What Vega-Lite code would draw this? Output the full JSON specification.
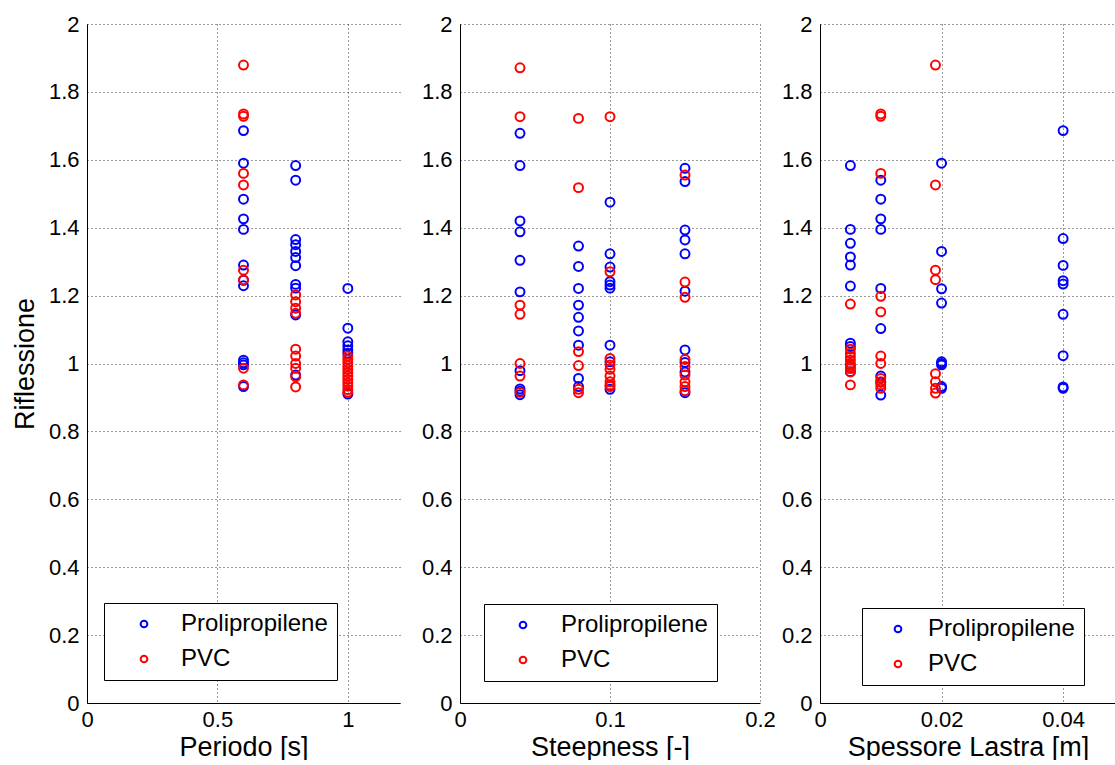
{
  "$schema": "https://vega.github.io/schema/vega-lite/v6.json",
  "padding": {"left": 11, "top": 13, "right": 0, "bottom": 0},
  "background": "white",
  "bounds": "flush",
  "spacing": 60,
  "datasets": {
    "p1": [
      {"x": 0.6, "y": 1.686, "mat": "Prolipropilene"}, {"x": 0.6, "y": 1.59, "mat": "Prolipropilene"}, {"x": 0.6, "y": 1.484, "mat": "Prolipropilene"}, {"x": 0.6, "y": 1.426, "mat": "Prolipropilene"}, {"x": 0.6, "y": 1.395, "mat": "Prolipropilene"}, {"x": 0.6, "y": 1.29, "mat": "Prolipropilene"}, {"x": 0.6, "y": 1.245, "mat": "Prolipropilene"}, {"x": 0.6, "y": 1.229, "mat": "Prolipropilene"}, {"x": 0.6, "y": 1.01, "mat": "Prolipropilene"}, {"x": 0.6, "y": 1.002, "mat": "Prolipropilene"}, {"x": 0.6, "y": 0.996, "mat": "Prolipropilene"}, {"x": 0.6, "y": 0.932, "mat": "Prolipropilene"},
      {"x": 0.8, "y": 1.583, "mat": "Prolipropilene"}, {"x": 0.8, "y": 1.54, "mat": "Prolipropilene"}, {"x": 0.8, "y": 1.365, "mat": "Prolipropilene"}, {"x": 0.8, "y": 1.35, "mat": "Prolipropilene"}, {"x": 0.8, "y": 1.33, "mat": "Prolipropilene"}, {"x": 0.8, "y": 1.312, "mat": "Prolipropilene"}, {"x": 0.8, "y": 1.288, "mat": "Prolipropilene"}, {"x": 0.8, "y": 1.233, "mat": "Prolipropilene"}, {"x": 0.8, "y": 1.222, "mat": "Prolipropilene"}, {"x": 0.8, "y": 1.143, "mat": "Prolipropilene"}, {"x": 0.8, "y": 0.966, "mat": "Prolipropilene"},
      {"x": 1.0, "y": 1.221, "mat": "Prolipropilene"}, {"x": 1.0, "y": 1.104, "mat": "Prolipropilene"}, {"x": 1.0, "y": 1.064, "mat": "Prolipropilene"}, {"x": 1.0, "y": 1.052, "mat": "Prolipropilene"}, {"x": 1.0, "y": 1.04, "mat": "Prolipropilene"}, {"x": 1.0, "y": 1.03, "mat": "Prolipropilene"}, {"x": 1.0, "y": 0.91, "mat": "Prolipropilene"},
      {"x": 0.6, "y": 1.879, "mat": "PVC"}, {"x": 0.6, "y": 1.735, "mat": "PVC"}, {"x": 0.6, "y": 1.728, "mat": "PVC"}, {"x": 0.6, "y": 1.56, "mat": "PVC"}, {"x": 0.6, "y": 1.526, "mat": "PVC"}, {"x": 0.6, "y": 1.275, "mat": "PVC"}, {"x": 0.6, "y": 1.246, "mat": "PVC"}, {"x": 0.6, "y": 0.986, "mat": "PVC"}, {"x": 0.6, "y": 0.937, "mat": "PVC"},
      {"x": 0.8, "y": 1.202, "mat": "PVC"}, {"x": 0.8, "y": 1.182, "mat": "PVC"}, {"x": 0.8, "y": 1.163, "mat": "PVC"}, {"x": 0.8, "y": 1.148, "mat": "PVC"}, {"x": 0.8, "y": 1.042, "mat": "PVC"}, {"x": 0.8, "y": 1.022, "mat": "PVC"}, {"x": 0.8, "y": 1.0, "mat": "PVC"}, {"x": 0.8, "y": 0.986, "mat": "PVC"}, {"x": 0.8, "y": 0.961, "mat": "PVC"}, {"x": 0.8, "y": 0.931, "mat": "PVC"},
      {"x": 1.0, "y": 1.022, "mat": "PVC"}, {"x": 1.0, "y": 1.012, "mat": "PVC"}, {"x": 1.0, "y": 1.002, "mat": "PVC"}, {"x": 1.0, "y": 0.993, "mat": "PVC"}, {"x": 1.0, "y": 0.983, "mat": "PVC"}, {"x": 1.0, "y": 0.973, "mat": "PVC"}, {"x": 1.0, "y": 0.963, "mat": "PVC"}, {"x": 1.0, "y": 0.953, "mat": "PVC"}, {"x": 1.0, "y": 0.943, "mat": "PVC"}, {"x": 1.0, "y": 0.933, "mat": "PVC"}, {"x": 1.0, "y": 0.923, "mat": "PVC"}, {"x": 1.0, "y": 0.915, "mat": "PVC"}
    ],
    "p2": [
      {"x": 0.04, "y": 1.678, "mat": "Prolipropilene"}, {"x": 0.04, "y": 1.583, "mat": "Prolipropilene"}, {"x": 0.04, "y": 1.42, "mat": "Prolipropilene"}, {"x": 0.04, "y": 1.388, "mat": "Prolipropilene"}, {"x": 0.04, "y": 1.304, "mat": "Prolipropilene"}, {"x": 0.04, "y": 1.211, "mat": "Prolipropilene"}, {"x": 0.04, "y": 0.979, "mat": "Prolipropilene"}, {"x": 0.04, "y": 0.925, "mat": "Prolipropilene"}, {"x": 0.04, "y": 0.918, "mat": "Prolipropilene"}, {"x": 0.04, "y": 0.908, "mat": "Prolipropilene"},
      {"x": 0.079, "y": 1.346, "mat": "Prolipropilene"}, {"x": 0.079, "y": 1.286, "mat": "Prolipropilene"}, {"x": 0.079, "y": 1.221, "mat": "Prolipropilene"}, {"x": 0.079, "y": 1.172, "mat": "Prolipropilene"}, {"x": 0.079, "y": 1.136, "mat": "Prolipropilene"}, {"x": 0.079, "y": 1.096, "mat": "Prolipropilene"}, {"x": 0.079, "y": 1.054, "mat": "Prolipropilene"}, {"x": 0.079, "y": 0.956, "mat": "Prolipropilene"}, {"x": 0.079, "y": 0.932, "mat": "Prolipropilene"},
      {"x": 0.1, "y": 1.475, "mat": "Prolipropilene"}, {"x": 0.1, "y": 1.323, "mat": "Prolipropilene"}, {"x": 0.1, "y": 1.284, "mat": "Prolipropilene"}, {"x": 0.1, "y": 1.241, "mat": "Prolipropilene"}, {"x": 0.1, "y": 1.231, "mat": "Prolipropilene"}, {"x": 0.1, "y": 1.222, "mat": "Prolipropilene"}, {"x": 0.1, "y": 1.054, "mat": "Prolipropilene"}, {"x": 0.1, "y": 1.005, "mat": "Prolipropilene"}, {"x": 0.1, "y": 0.924, "mat": "Prolipropilene"},
      {"x": 0.15, "y": 1.575, "mat": "Prolipropilene"}, {"x": 0.15, "y": 1.536, "mat": "Prolipropilene"}, {"x": 0.15, "y": 1.393, "mat": "Prolipropilene"}, {"x": 0.15, "y": 1.364, "mat": "Prolipropilene"}, {"x": 0.15, "y": 1.323, "mat": "Prolipropilene"}, {"x": 0.15, "y": 1.213, "mat": "Prolipropilene"}, {"x": 0.15, "y": 1.04, "mat": "Prolipropilene"}, {"x": 0.15, "y": 1.003, "mat": "Prolipropilene"}, {"x": 0.15, "y": 0.975, "mat": "Prolipropilene"}, {"x": 0.15, "y": 0.914, "mat": "Prolipropilene"},
      {"x": 0.04, "y": 1.871, "mat": "PVC"}, {"x": 0.04, "y": 1.727, "mat": "PVC"}, {"x": 0.04, "y": 1.172, "mat": "PVC"}, {"x": 0.04, "y": 1.145, "mat": "PVC"}, {"x": 0.04, "y": 1.0, "mat": "PVC"}, {"x": 0.04, "y": 0.963, "mat": "PVC"}, {"x": 0.04, "y": 0.915, "mat": "PVC"},
      {"x": 0.079, "y": 1.722, "mat": "PVC"}, {"x": 0.079, "y": 1.518, "mat": "PVC"}, {"x": 0.079, "y": 1.035, "mat": "PVC"}, {"x": 0.079, "y": 0.994, "mat": "PVC"}, {"x": 0.079, "y": 0.924, "mat": "PVC"}, {"x": 0.079, "y": 0.914, "mat": "PVC"},
      {"x": 0.1, "y": 1.727, "mat": "PVC"}, {"x": 0.1, "y": 1.27, "mat": "PVC"}, {"x": 0.1, "y": 1.015, "mat": "PVC"}, {"x": 0.1, "y": 0.996, "mat": "PVC"}, {"x": 0.1, "y": 0.983, "mat": "PVC"}, {"x": 0.1, "y": 0.963, "mat": "PVC"}, {"x": 0.1, "y": 0.946, "mat": "PVC"}, {"x": 0.1, "y": 0.937, "mat": "PVC"}, {"x": 0.1, "y": 0.932, "mat": "PVC"},
      {"x": 0.15, "y": 1.555, "mat": "PVC"}, {"x": 0.15, "y": 1.24, "mat": "PVC"}, {"x": 0.15, "y": 1.195, "mat": "PVC"}, {"x": 0.15, "y": 1.012, "mat": "PVC"}, {"x": 0.15, "y": 0.991, "mat": "PVC"}, {"x": 0.15, "y": 0.966, "mat": "PVC"}, {"x": 0.15, "y": 0.946, "mat": "PVC"}, {"x": 0.15, "y": 0.932, "mat": "PVC"}, {"x": 0.15, "y": 0.92, "mat": "PVC"}
    ],
    "p3": [
      {"x": 0.005, "y": 1.583, "mat": "Prolipropilene"}, {"x": 0.005, "y": 1.395, "mat": "Prolipropilene"}, {"x": 0.005, "y": 1.354, "mat": "Prolipropilene"}, {"x": 0.005, "y": 1.314, "mat": "Prolipropilene"}, {"x": 0.005, "y": 1.29, "mat": "Prolipropilene"}, {"x": 0.005, "y": 1.228, "mat": "Prolipropilene"}, {"x": 0.005, "y": 1.06, "mat": "Prolipropilene"}, {"x": 0.005, "y": 1.05, "mat": "Prolipropilene"}, {"x": 0.005, "y": 0.976, "mat": "Prolipropilene"},
      {"x": 0.01, "y": 1.54, "mat": "Prolipropilene"}, {"x": 0.01, "y": 1.484, "mat": "Prolipropilene"}, {"x": 0.01, "y": 1.426, "mat": "Prolipropilene"}, {"x": 0.01, "y": 1.395, "mat": "Prolipropilene"}, {"x": 0.01, "y": 1.221, "mat": "Prolipropilene"}, {"x": 0.01, "y": 1.103, "mat": "Prolipropilene"}, {"x": 0.01, "y": 0.963, "mat": "Prolipropilene"}, {"x": 0.01, "y": 0.945, "mat": "Prolipropilene"}, {"x": 0.01, "y": 0.907, "mat": "Prolipropilene"},
      {"x": 0.02, "y": 1.59, "mat": "Prolipropilene"}, {"x": 0.02, "y": 1.33, "mat": "Prolipropilene"}, {"x": 0.02, "y": 1.22, "mat": "Prolipropilene"}, {"x": 0.02, "y": 1.178, "mat": "Prolipropilene"}, {"x": 0.02, "y": 1.005, "mat": "Prolipropilene"}, {"x": 0.02, "y": 1.0, "mat": "Prolipropilene"}, {"x": 0.02, "y": 0.996, "mat": "Prolipropilene"}, {"x": 0.02, "y": 0.932, "mat": "Prolipropilene"}, {"x": 0.02, "y": 0.927, "mat": "Prolipropilene"},
      {"x": 0.04, "y": 1.686, "mat": "Prolipropilene"}, {"x": 0.04, "y": 1.368, "mat": "Prolipropilene"}, {"x": 0.04, "y": 1.289, "mat": "Prolipropilene"}, {"x": 0.04, "y": 1.244, "mat": "Prolipropilene"}, {"x": 0.04, "y": 1.234, "mat": "Prolipropilene"}, {"x": 0.04, "y": 1.145, "mat": "Prolipropilene"}, {"x": 0.04, "y": 1.023, "mat": "Prolipropilene"}, {"x": 0.04, "y": 0.931, "mat": "Prolipropilene"}, {"x": 0.04, "y": 0.927, "mat": "Prolipropilene"},
      {"x": 0.005, "y": 1.175, "mat": "PVC"}, {"x": 0.005, "y": 1.042, "mat": "PVC"}, {"x": 0.005, "y": 1.03, "mat": "PVC"}, {"x": 0.005, "y": 1.02, "mat": "PVC"}, {"x": 0.005, "y": 1.01, "mat": "PVC"}, {"x": 0.005, "y": 1.0, "mat": "PVC"}, {"x": 0.005, "y": 0.995, "mat": "PVC"}, {"x": 0.005, "y": 0.99, "mat": "PVC"}, {"x": 0.005, "y": 0.985, "mat": "PVC"}, {"x": 0.005, "y": 0.975, "mat": "PVC"}, {"x": 0.005, "y": 0.937, "mat": "PVC"},
      {"x": 0.01, "y": 1.735, "mat": "PVC"}, {"x": 0.01, "y": 1.728, "mat": "PVC"}, {"x": 0.01, "y": 1.56, "mat": "PVC"}, {"x": 0.01, "y": 1.198, "mat": "PVC"}, {"x": 0.01, "y": 1.152, "mat": "PVC"}, {"x": 0.01, "y": 1.022, "mat": "PVC"}, {"x": 0.01, "y": 1.0, "mat": "PVC"}, {"x": 0.01, "y": 0.956, "mat": "PVC"}, {"x": 0.01, "y": 0.946, "mat": "PVC"}, {"x": 0.01, "y": 0.937, "mat": "PVC"}, {"x": 0.01, "y": 0.927, "mat": "PVC"},
      {"x": 0.019, "y": 1.879, "mat": "PVC"}, {"x": 0.019, "y": 1.526, "mat": "PVC"}, {"x": 0.019, "y": 1.275, "mat": "PVC"}, {"x": 0.019, "y": 1.247, "mat": "PVC"}, {"x": 0.019, "y": 0.97, "mat": "PVC"}, {"x": 0.019, "y": 0.946, "mat": "PVC"}, {"x": 0.019, "y": 0.927, "mat": "PVC"}, {"x": 0.019, "y": 0.913, "mat": "PVC"}
    ]
  },
  "resolve": {"legend": {"color": "independent"}},
  "hconcat": [
    {
      "width": 313, "height": 679,
      "data": {"name": "p1"},
      "mark": {"type": "point", "shape": "circle", "filled": false, "size": 80, "strokeWidth": 2, "opacity": 1},
      "encoding": {
        "x": {"field": "x", "type": "quantitative", "scale": {"domain": [0, 1.2], "nice": false, "zero": false}, "axis": {"title": "Periodo [s]", "values": [0, 0.5, 1], "format": ".1~f"}},
        "y": {"field": "y", "type": "quantitative", "scale": {"domain": [0, 2], "nice": false}, "axis": {"title": "Riflessione", "values": [0, 0.2, 0.4, 0.6, 0.8, 1, 1.2, 1.4, 1.6, 1.8, 2], "format": ".1~f"}},
        "color": {"field": "mat", "type": "nominal", "scale": {"domain": ["Prolipropilene", "PVC"], "range": ["#0000ff", "#ff0000"]},
          "legend": {"title": null, "orient": "none", "legendX": 17, "legendY": 579, "symbolOffset": 19, "labelOffset": 25}}
      }
    },
    {
      "width": 300, "height": 679,
      "data": {"name": "p2"},
      "mark": {"type": "point", "shape": "circle", "filled": false, "size": 80, "strokeWidth": 2, "opacity": 1},
      "encoding": {
        "x": {"field": "x", "type": "quantitative", "scale": {"domain": [0, 0.2], "nice": false, "zero": false}, "axis": {"title": "Steepness [-]", "values": [0, 0.1, 0.2], "format": ".1~f"}},
        "y": {"field": "y", "type": "quantitative", "scale": {"domain": [0, 2], "nice": false}, "axis": {"title": null, "values": [0, 0.2, 0.4, 0.6, 0.8, 1, 1.2, 1.4, 1.6, 1.8, 2], "format": ".1~f"}},
        "color": {"field": "mat", "type": "nominal", "scale": {"domain": ["Prolipropilene", "PVC"], "range": ["#0000ff", "#ff0000"]},
          "legend": {"title": null, "orient": "none", "legendX": 24, "legendY": 580, "symbolOffset": 18, "labelOffset": 26}}
      }
    },
    {
      "width": 296, "height": 679,
      "data": {"name": "p3"},
      "mark": {"type": "point", "shape": "circle", "filled": false, "size": 80, "strokeWidth": 2, "opacity": 1},
      "encoding": {
        "x": {"field": "x", "type": "quantitative", "scale": {"domain": [0, 0.0487], "nice": false, "zero": false}, "axis": {"title": "Spessore Lastra [m]", "values": [0, 0.02, 0.04], "format": ".2~f"}},
        "y": {"field": "y", "type": "quantitative", "scale": {"domain": [0, 2], "nice": false}, "axis": {"title": null, "values": [0, 0.2, 0.4, 0.6, 0.8, 1, 1.2, 1.4, 1.6, 1.8, 2], "format": ".1~f"}},
        "color": {"field": "mat", "type": "nominal", "scale": {"domain": ["Prolipropilene", "PVC"], "range": ["#0000ff", "#ff0000"]},
          "legend": {"title": null, "orient": "none", "legendX": 42, "legendY": 584, "symbolOffset": 15, "labelOffset": 18}}
      }
    }
  ],
  "config": {
    "view": {"stroke": null},
    "font": "Liberation Sans",
    "axis": {
      "domainColor": "black", "domainWidth": 1, "ticks": false,
      "labelFont": "Liberation Sans", "labelFontSize": 22, "labelColor": "black",
      "titleFont": "Liberation Sans", "titleFontSize": 27, "titleFontWeight": "normal", "titleColor": "black",
      "grid": true, "gridColor": "#333333", "gridDash": [1, 3], "gridWidth": 1, "gridOpacity": 1,
      "labelFlush": false, "labelOverlap": false
    },
    "axisX": {"titlePadding": 4, "labelPadding": 6},
    "axisY": {"titlePadding": 9, "labelPadding": 8},
    "legend": {
      "labelFont": "Liberation Sans", "labelFontSize": 24, "labelColor": "black",
      "padding": 9, "rowPadding": 11, "symbolSize": 45, "symbolStrokeWidth": 2, "symbolType": "circle",
      "strokeColor": "black", "fillColor": "white"
    }
  }
}
